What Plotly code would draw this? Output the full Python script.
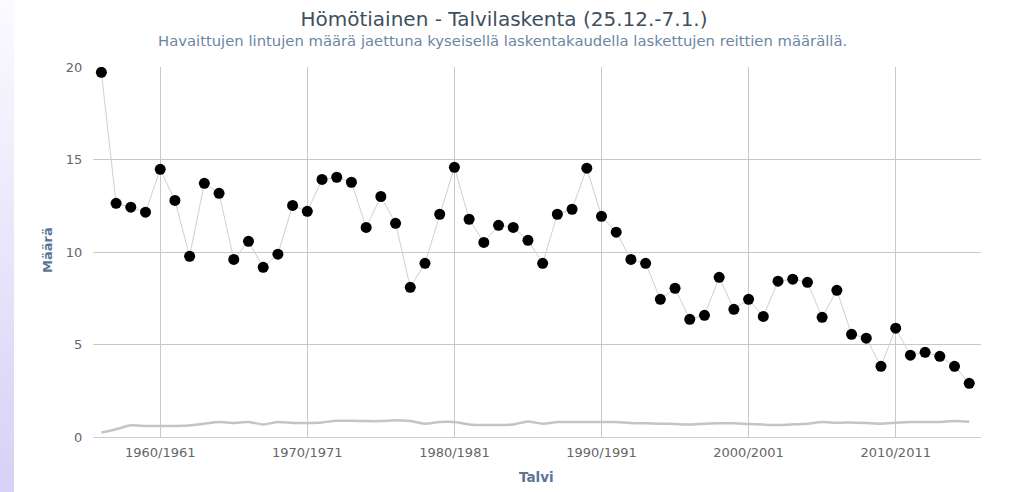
import plotly.graph_objects as go

# ---- data ----
start_years = list(range(1956, 2016))
categories = [f"{y}/{y+1}" for y in start_years]

birds_per_route = [
    19.71, 12.63, 12.42, 12.15, 14.47, 12.79, 9.77, 13.71, 13.17, 9.60,
    10.58, 9.17, 9.88, 12.52, 12.20, 13.92, 14.04, 13.77, 11.33, 13.00,
    11.55, 8.09, 9.39, 12.04, 14.58, 11.77, 10.52, 11.44, 11.33, 10.63,
    9.39, 12.04, 12.31, 14.53, 11.93, 11.07, 9.60, 9.39, 7.44, 8.04,
    6.36, 6.58, 8.63, 6.90, 7.44, 6.52, 8.42, 8.53, 8.36, 6.47,
    7.93, 5.55, 5.34, 3.82, 5.88, 4.42, 4.58, 4.36, 3.82, 2.90,
]

lower_series = [
    0.24, 0.42, 0.63, 0.60, 0.60, 0.60, 0.62, 0.72, 0.81, 0.76,
    0.81, 0.68, 0.81, 0.76, 0.76, 0.79, 0.88, 0.88, 0.86, 0.86,
    0.90, 0.86, 0.72, 0.81, 0.81, 0.68, 0.65, 0.65, 0.68, 0.84,
    0.72, 0.81, 0.81, 0.81, 0.81, 0.81, 0.76, 0.74, 0.72, 0.70,
    0.67, 0.72, 0.74, 0.74, 0.70, 0.67, 0.65, 0.68, 0.72, 0.81,
    0.77, 0.79, 0.76, 0.72, 0.77, 0.81, 0.81, 0.81, 0.86, 0.83,
]

x_tick_labels = ["1960/1961", "1970/1971", "1980/1981", "1990/1991", "2000/2001", "2010/2011"]
y_tick_values = [0, 5, 10, 15, 20]

title_text = "Hömötiainen - Talvilaskenta (25.12.-7.1.)"
subtitle_text = "Havaittujen lintujen määrä jaettuna kyseisellä laskentakaudella laskettujen reittien määrällä."
x_title = "Talvi"
y_title = "Määrä"

FONT = "DejaVu Sans"

fig = go.Figure()

fig.add_trace(go.Scatter(
    x=categories, y=lower_series, mode="lines",
    line=dict(color="#C4C4C4", width=2.5, shape="spline", smoothing=0.6),
    hoverinfo="skip", showlegend=False,
))

fig.add_trace(go.Scatter(
    x=categories, y=birds_per_route, mode="lines+markers",
    line=dict(color="#D0D0D0", width=1),
    marker=dict(color="#000000", size=11),
    showlegend=False,
))

# left lavender strip (page decoration)
W_PLOT_L, W_PLOT_R = 93, 981
PLOT_T, PLOT_B = 67, 437
pw = W_PLOT_R - W_PLOT_L
ph = PLOT_B - PLOT_T
def px2paper(px):
    return (px - W_PLOT_L) / pw
def py2paper(py):
    return (PLOT_B - py) / ph

n_bands = 40
top_rgb = (251, 251, 255)
bot_rgb = (215, 208, 246)
for i in range(n_bands):
    t = (i + 0.5) / n_bands
    r, g, b = (int(round(top_rgb[k] + t * (bot_rgb[k] - top_rgb[k]))) for k in range(3))
    fig.add_shape(
        type="rect", xref="paper", yref="paper",
        x0=px2paper(0), x1=px2paper(14),
        y0=py2paper((i + 1) * 492 / n_bands + 0.5),
        y1=py2paper(i * 492 / n_bands),
        fillcolor=f"rgb({r},{g},{b})", line=dict(width=0), layer="below",
    )

fig.update_layout(
    width=1015, height=492,
    margin=dict(l=W_PLOT_L, r=1015 - W_PLOT_R, t=PLOT_T, b=492 - PLOT_B, pad=0),
    paper_bgcolor="white", plot_bgcolor="white",
    font=dict(family=FONT, color="#666666", size=13),
    title=dict(
        text=title_text, x=504 / 1015, xanchor="center", xref="container",
        y=1 - 19 / 492, yanchor="middle", yref="container",
        font=dict(family=FONT, size=20, color="#3E4F60"),
    ),
    xaxis=dict(
        type="category", categoryorder="array", categoryarray=categories,
        range=[-0.57, 59.8],
        tickmode="array", tickvals=x_tick_labels, ticktext=x_tick_labels,
        showgrid=True, gridcolor="#C8C8C8", gridwidth=1,
        ticks="outside", ticklen=3, tickcolor="rgba(0,0,0,0)",
        tickfont=dict(family=FONT, size=13, color="#666666"),
        showline=True, linecolor="#C0D0E0", linewidth=1,
        zeroline=False, fixedrange=True,
    ),
    yaxis=dict(
        range=[0, 20], tickmode="array", tickvals=y_tick_values,
        showgrid=True, gridcolor="#C8C8C8", gridwidth=1,
        ticks="outside", ticklen=7, tickcolor="rgba(0,0,0,0)",
        tickfont=dict(family=FONT, size=13, color="#666666"),
        zeroline=False, showline=False, fixedrange=True,
    ),
    annotations=[
        dict(text=subtitle_text, xref="paper", yref="paper",
             x=px2paper(502), y=py2paper(40), xanchor="center", yanchor="middle",
             showarrow=False, font=dict(family=FONT, size=14.8, color="#6D869F")),
        dict(text=f"<b>{y_title}</b>", xref="paper", yref="paper",
             x=px2paper(47), y=py2paper(250), xanchor="center", yanchor="middle",
             textangle=-90, showarrow=False, font=dict(family=FONT, size=13, color="#5B7595")),
        dict(text=f"<b>{x_title}</b>", xref="paper", yref="paper",
             x=px2paper(536), y=py2paper(477), xanchor="center", yanchor="middle",
             showarrow=False, font=dict(family=FONT, size=13.5, color="#5B7595")),
    ],
)

fig.write_html(
    "out.html",
    config={"displayModeBar": False},
    post_script="document.body.style.margin='0';document.body.style.overflow='hidden';",
)
